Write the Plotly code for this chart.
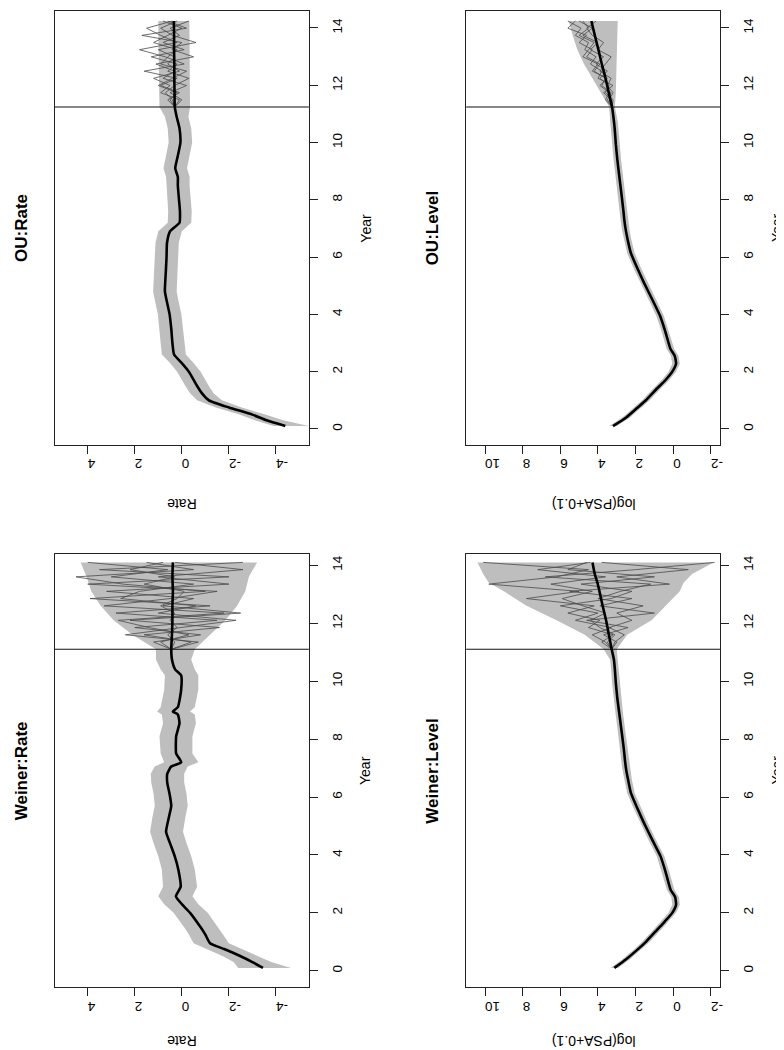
import plotly.graph_objects as go

# ---------------- data ----------------
# OU : Rate
ou_rate_years = [0.1, 0.3, 0.5, 0.75, 1.0, 1.25, 1.5, 2.0, 2.3, 2.6, 3.0, 3.5, 4.0, 4.5, 4.8, 5.5, 6.0,
                 6.5, 6.9, 7.2, 7.6, 8.0, 8.5, 8.8, 9.1, 9.5, 10.0, 10.5, 10.9, 11.24, 11.75, 12.25,
                 12.75, 13.25, 13.75, 14.24]
ou_rate_mean = [-4.4, -3.6, -3.0, -2.0, -1.15, -0.85, -0.65, -0.3, 0.0, 0.33, 0.4, 0.45, 0.52, 0.65, 0.72,
                0.68, 0.65, 0.63, 0.5, 0.1, 0.08, 0.12, 0.17, 0.17, 0.28, 0.18, 0.06, 0.1, 0.22, 0.3,
                0.31, 0.32, 0.32, 0.33, 0.33, 0.34]
ou_rate_hi = [-3.9, -3.1, -2.45, -1.45, -0.65, -0.35, -0.15, 0.2, 0.5, 0.85, 0.9, 0.95, 1.02, 1.15, 1.22,
              1.18, 1.15, 1.12, 1.0, 0.6, 0.58, 0.62, 0.67, 0.67, 0.78, 0.68, 0.56, 0.6, 0.72, 0.95,
              0.97, 0.98, 0.98, 0.99, 0.99, 1.0]
ou_rate_lo = [-5.4, -4.3, -3.55, -2.55, -1.7, -1.35, -1.15, -0.8, -0.5, -0.17, -0.1, -0.05, 0.02, 0.15,
              0.22, 0.18, 0.15, 0.13, 0.0, -0.4, -0.42, -0.38, -0.33, -0.33, -0.22, -0.32, -0.44, -0.4,
              -0.28, -0.35, -0.34, -0.34, -0.34, -0.33, -0.33, -0.32]

# OU : Level
ou_level_years = [0.1, 0.4, 0.73, 1.0, 1.42, 1.7, 2.0, 2.28, 2.55, 2.8, 3.4, 3.95, 4.5, 5.1, 5.6, 6.14,
                  6.6, 6.94, 7.3, 7.63, 8.3, 8.9, 9.4, 9.94, 10.4, 10.74, 11.24, 11.75, 12.25, 12.75,
                  13.25, 13.75, 14.24]
ou_level_mean = [3.2, 2.5, 1.92, 1.45, 0.85, 0.42, 0.05, -0.15, -0.08, 0.15, 0.42, 0.7, 1.1, 1.55, 1.9,
                 2.25, 2.42, 2.52, 2.6, 2.65, 2.77, 2.88, 2.97, 3.05, 3.1, 3.15, 3.25, 3.43, 3.6, 3.8,
                 3.98, 4.17, 4.35]
ou_level_hi = [3.4, 2.7, 2.12, 1.65, 1.05, 0.62, 0.25, 0.05, 0.12, 0.35, 0.62, 0.9, 1.3, 1.75, 2.1, 2.45,
               2.62, 2.72, 2.8, 2.85, 2.97, 3.08, 3.17, 3.25, 3.3, 3.35, 3.4, 3.85, 4.3, 4.75, 5.1, 5.35,
               5.55]
ou_level_lo = [3.0, 2.3, 1.72, 1.25, 0.65, 0.22, -0.15, -0.35, -0.28, -0.05, 0.22, 0.5, 0.9, 1.35, 1.7,
               2.05, 2.22, 2.32, 2.4, 2.45, 2.57, 2.68, 2.77, 2.85, 2.9, 2.95, 3.1, 3.05, 3.02, 3.0,
               2.98, 2.97, 2.95]

# Weiner : Rate
wn_rate_years = [0.1, 0.3, 0.5, 0.75, 0.95, 1.25, 1.5, 2.0, 2.3, 2.57, 2.9, 3.5, 3.95, 4.4, 4.8, 5.3,
                 5.7, 6.1, 6.5, 6.8, 7.05, 7.2, 7.5, 8.1, 8.55, 8.85, 8.95, 9.1, 9.7, 10.2, 10.4, 10.75,
                 11.1, 11.6, 12.1, 12.6, 13.1, 13.6, 14.1]
wn_rate_mean = [-3.45, -3.0, -2.5, -1.8, -1.2, -1.0, -0.8, -0.35, 0.0, 0.25, 0.05, 0.15, 0.3, 0.5, 0.67,
                0.55, 0.45, 0.52, 0.62, 0.62, 0.45, 0.03, 0.24, 0.24, 0.1, 0.17, 0.38, 0.17, 0.03, 0.03,
                0.28, 0.42, 0.45, 0.42, 0.4, 0.4, 0.38, 0.4, 0.38]
wn_rate_hi = [-2.4, -2.2, -1.75, -1.05, -0.5, -0.3, -0.1, 0.35, 0.75, 1.0, 0.8, 0.85, 1.0, 1.2, 1.35,
              1.25, 1.15, 1.2, 1.3, 1.32, 1.15, 0.75, 0.9, 0.95, 0.8, 0.85, 1.05, 0.9, 0.75, 0.72, 0.9,
              1.1, 1.1, 2.1, 2.9, 3.45, 3.85, 4.05, 4.3]
wn_rate_lo = [-4.65, -3.8, -3.25, -2.55, -2.0, -1.75, -1.55, -1.1, -0.7, -0.45, -0.65, -0.55, -0.4,
              -0.2, -0.05, -0.15, -0.25, -0.2, -0.1, -0.1, -0.25, -0.7, -0.45, -0.45, -0.6, -0.55,
              -0.35, -0.55, -0.7, -0.7, -0.55, -0.4, -0.55, -1.2, -1.85, -2.35, -2.7, -2.85, -3.2]

# Weiner : Level
wn_level_years = [0.1, 0.4, 0.73, 1.0, 1.42, 1.7, 2.0, 2.28, 2.55, 2.8, 3.4, 3.95, 4.5, 5.1, 5.6, 6.14,
                  6.6, 6.94, 7.3, 7.63, 8.3, 8.9, 9.4, 9.94, 10.4, 10.74, 11.1, 11.6, 12.1, 12.6, 13.1,
                  13.4, 13.7, 14.1]
wn_level_mean = [3.13, 2.5, 1.9, 1.45, 0.85, 0.45, 0.05, -0.15, -0.1, 0.14, 0.4, 0.67, 1.1, 1.55, 1.9,
                 2.25, 2.4, 2.5, 2.57, 2.62, 2.75, 2.87, 2.97, 3.05, 3.1, 3.15, 3.27, 3.42, 3.57, 3.75,
                 3.92, 4.03, 4.17, 4.29]
wn_level_hi = [3.33, 2.7, 2.1, 1.65, 1.05, 0.65, 0.25, 0.05, 0.1, 0.34, 0.6, 0.87, 1.3, 1.75, 2.1, 2.45,
               2.6, 2.7, 2.77, 2.82, 2.95, 3.07, 3.17, 3.25, 3.3, 3.35, 3.7, 4.7, 6.2, 7.8, 9.0, 9.8,
               10.1, 10.4]
wn_level_lo = [2.93, 2.3, 1.7, 1.25, 0.65, 0.25, -0.15, -0.35, -0.3, -0.06, 0.2, 0.47, 0.9, 1.35, 1.7,
               2.05, 2.2, 2.3, 2.37, 2.42, 2.55, 2.67, 2.77, 2.85, 2.9, 2.95, 3.0, 2.45, 1.15, 0.4,
               -0.35, -0.55, -1.0, -2.15]

# simulated future paths
ou_path_years = [11.24, 11.49, 11.74, 11.99, 12.24, 12.49, 12.74, 12.99, 13.24, 13.49, 13.74, 13.99, 14.24]
wn_path_years = [11.1, 11.35, 11.6, 11.85, 12.1, 12.35, 12.6, 12.85, 13.1, 13.35, 13.6, 13.85, 14.1]

ou_rate_paths = [
    [0.3, 0.6, 0.1, 0.9, 0.2, 1.6, -0.1, 0.7, 1.8, 0.2, 0.9, 1.5, 0.4],
    [0.3, 0.0, 0.5, -0.2, 0.8, 0.3, 1.1, -0.5, 0.4, 0.0, 1.7, -0.2, 0.6],
    [0.3, 0.4, 0.7, 0.3, -0.3, 0.6, 0.2, 1.3, -0.1, 0.8, 0.1, 0.5, -0.3],
    [0.3, 0.1, 0.9, 0.5, 1.2, 0.1, 0.6, 0.3, 1.0, -0.6, 0.4, 0.9, 0.2],
    [0.3, 0.5, 0.2, 1.0, 0.4, -0.2, 0.9, 0.6, 0.2, 1.2, 0.6, 0.0, 0.8],
]
ou_level_paths = [
    [3.25, 3.5, 3.3, 3.8, 3.6, 4.2, 3.9, 4.6, 4.3, 5.0, 4.6, 5.6, 5.2],
    [3.25, 3.2, 3.6, 3.4, 3.9, 3.5, 4.1, 3.7, 4.4, 4.0, 4.8, 4.3, 5.0],
    [3.25, 3.4, 3.2, 3.5, 3.3, 3.9, 3.6, 3.3, 4.0, 3.7, 4.3, 4.6, 4.1],
    [3.25, 3.3, 3.7, 3.2, 4.0, 3.8, 4.4, 4.1, 4.7, 4.5, 5.2, 4.9, 5.6],
    [3.25, 3.6, 3.4, 3.9, 3.5, 4.3, 4.0, 4.8, 4.5, 4.2, 5.0, 4.5, 4.8],
]
wn_rate_paths = [
    [0.45, 1.2, -0.8, 2.0, -1.5, 2.8, -1.2, 3.9, -1.0, 2.5, 4.5, -0.5, 1.5],
    [0.45, -0.4, 1.6, -1.6, 2.2, -2.5, 0.8, -0.5, 3.2, -2.0, 1.0, -2.6, 0.3],
    [0.45, 0.3, 0.6, 0.2, 0.5, 0.3, 0.9, 0.2, -0.1, 1.6, 0.3, 2.2, 0.8],
    [0.45, 0.9, -0.3, 1.4, 2.7, -1.8, 3.3, 0.5, -1.5, 4.0, -2.0, 3.5, -2.6],
    [0.45, -0.7, 2.4, 0.1, -2.3, 1.0, -0.6, 2.6, 1.8, -0.5, 3.0, 0.6, 4.0],
]
wn_level_paths = [
    [3.27, 3.8, 3.2, 4.5, 3.9, 5.6, 4.2, 7.8, 5.0, 9.8, 6.2, 4.5, 10.1],
    [3.27, 3.0, 3.7, 2.4, 4.6, 1.0, 3.9, 2.2, 5.5, 0.2, 3.0, -0.8, 3.8],
    [3.27, 3.5, 3.1, 3.9, 4.4, 3.6, 4.8, 5.9, 4.3, 6.5, 3.6, 7.2, 4.4],
    [3.27, 3.1, 2.6, 3.4, 2.2, 3.0, 1.6, 4.0, 2.8, 1.2, 6.8, 2.0, -2.2],
    [3.27, 3.6, 4.3, 3.3, 5.2, 4.0, 6.0, 3.3, 2.2, 4.9, 1.0, 5.6, 4.6],
]

rate_ticks = [-4, -2, 0, 2, 4]
level_ticks = [-2, 0, 2, 4, 6, 8, 10]
year_ticks = [0, 2, 4, 6, 8, 10, 12, 14]

# ---------------- layout helpers ----------------
W, H = 784, 1050
FONT = "Liberation Sans, Arial, Helvetica, sans-serif"


def fx(p):
    return p / W


def fy(p):
    return 1 - p / H


panels = [
    dict(title="OU:Rate", ylab="Rate", years=ou_rate_years, mean=ou_rate_mean, lo=ou_rate_lo,
         hi=ou_rate_hi, pyears=ou_path_years, paths=ou_rate_paths, vticks=rate_ticks,
         vrange=[5.4, -5.4], yrange=[-0.55, 14.58], box=(47, 302, 3.3, 436.7), labgap=60),
    dict(title="OU:Level", ylab="log(PSA+0.1)", years=ou_level_years, mean=ou_level_mean,
         lo=ou_level_lo, hi=ou_level_hi, pyears=ou_path_years, paths=ou_level_paths,
         vticks=level_ticks, vrange=[11.0, -2.5], yrange=[-0.55, 14.58], box=(460, 715, 3.3, 436.7),
         labgap=60),
    dict(title="Weiner:Rate", ylab="Rate", years=wn_rate_years, mean=wn_rate_mean, lo=wn_rate_lo,
         hi=wn_rate_hi, pyears=wn_path_years, paths=wn_rate_paths, vticks=rate_ticks,
         vrange=[5.4, -5.4], yrange=[-0.56, 14.40], box=(47, 302, 545.7, 979), labgap=54),
    dict(title="Weiner:Level", ylab="log(PSA+0.1)", years=wn_level_years, mean=wn_level_mean,
         lo=wn_level_lo, hi=wn_level_hi, pyears=wn_path_years, paths=wn_level_paths,
         vticks=level_ticks, vrange=[11.0, -2.5], yrange=[-0.56, 14.40], box=(460, 715, 545.7, 979),
         labgap=54),
]

fig = go.Figure()
layout = {}
annotations = []
shapes = []

for i, p in enumerate(panels):
    s = "" if i == 0 else str(i + 1)
    xa, ya = "x" + s, "y" + s
    l, r, t, b = p["box"]

    # band
    fig.add_trace(go.Scatter(
        x=p["hi"] + p["lo"][::-1], y=p["years"] + p["years"][::-1],
        mode="lines", fill="toself", fillcolor="#BEBEBE", line=dict(width=0, color="#BEBEBE"),
        hoverinfo="skip", xaxis=xa, yaxis=ya, showlegend=False))
    # simulated paths
    for path in p["paths"]:
        fig.add_trace(go.Scatter(
            x=path, y=p["pyears"], mode="lines", line=dict(color="#4a4a4a", width=0.8),
            hoverinfo="skip", xaxis=xa, yaxis=ya, showlegend=False))
    # mean
    fig.add_trace(go.Scatter(
        x=p["mean"], y=p["years"], mode="lines",
        line=dict(color="black", width=2.6, shape="spline", smoothing=0.5),
        xaxis=xa, yaxis=ya, showlegend=False))

    # forecast start line
    shapes.append(dict(type="line", xref=xa + " domain", x0=0, x1=1, yref=ya,
                       y0=p["pyears"][0], y1=p["pyears"][0], layer="above",
                       line=dict(color="#111111", width=1.1)))

    common = dict(showgrid=False, zeroline=False, showline=True, linecolor="#222222", linewidth=1,
                  mirror=True, ticks="outside", ticklen=8, tickwidth=1, tickcolor="#222222",
                  tickfont=dict(family=FONT, size=13.5, color="black"))
    layout["xaxis" + s] = dict(domain=[fx(l), fx(r)], range=p["vrange"], anchor=ya, side="bottom",
                               tickvals=p["vticks"], ticktext=[str(v) for v in p["vticks"]],
                               tickangle=180, ticklabelstandoff=3, **common)
    layout["yaxis" + s] = dict(domain=[fy(b), fy(t)], range=p["yrange"], anchor=xa, side="right",
                               tickvals=year_ticks, ticktext=[str(v) for v in year_ticks],
                               tickangle=-90, ticklabelstandoff=8, **common)

    cy = (t + b) / 2
    cx = (l + r) / 2
    annotations.append(dict(text="<b>%s</b>" % p["title"], x=fx(l - 34), y=fy(cy), xref="paper",
                            yref="paper", showarrow=False, textangle=-90,
                            font=dict(family=FONT, size=17, color="black"),
                            xanchor="center", yanchor="middle"))
    annotations.append(dict(text="Year", x=fx(r + 57), y=fy(cy), xref="paper", yref="paper",
                            showarrow=False, textangle=-90,
                            font=dict(family=FONT, size=14, color="black"),
                            xanchor="center", yanchor="middle"))
    annotations.append(dict(text=p["ylab"], x=fx(cx), y=fy(b + p["labgap"]), xref="paper",
                            yref="paper", showarrow=False, textangle=180,
                            font=dict(family=FONT, size=14, color="black"),
                            xanchor="center", yanchor="middle"))

fig.update_layout(width=W, height=H, margin=dict(l=0, r=0, t=0, b=0),
                  paper_bgcolor="white", plot_bgcolor="white", showlegend=False,
                  annotations=annotations, shapes=shapes, **layout)

fig.write_html("out.html")
